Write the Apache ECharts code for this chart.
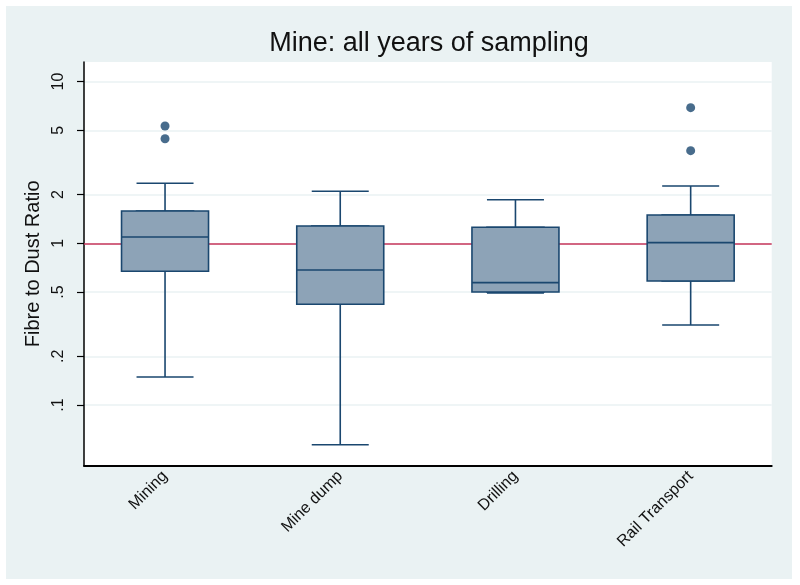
<!DOCTYPE html>
<html>
<head>
<meta charset="utf-8">
<script src="https://cdn.jsdelivr.net/npm/echarts@6/dist/echarts.min.js"></script>
<style>
html,body{margin:0;padding:0;background:#fff;}
#chart{width:800px;height:585px;}
</style>
</head>
<body>
<div id="chart"></div>
<script>
// ---- data ----
const categories = ['Mining', 'Mine dump', 'Drilling', 'Rail Transport'];
const whiskerLow  = [0.149, 0.0568, 0.493, 0.3125];
const quartile1   = [0.671, 0.420, 0.500, 0.585];
const medians     = [1.094, 0.684, 0.571, 1.009];
const quartile3   = [1.585, 1.280, 1.256, 1.496];
const whiskerHigh = [2.35, 2.10, 1.861, 2.26];
const outlierCategory = [0, 0, 3, 3];
const outlierValues   = [5.31, 4.43, 6.90, 3.74];
const yTickValues = [0.1, 0.2, 0.5, 1, 2, 5, 10];
const yTickLabels = ['.1', '.2', '.5', '1', '2', '5', '10'];
const referenceValue = 1;
const titleText = 'Mine: all years of sampling';
const yAxisTitle = 'Fibre to Dust Ratio';

// ---- build series data ----
const whiskerData = categories.map((c, i) => [i + 1, whiskerLow[i], quartile1[i], medians[i], quartile3[i], whiskerHigh[i]]);
const boxData = categories.map((c, i) => [i + 1, quartile1[i], quartile1[i], medians[i], quartile3[i], quartile3[i]]);
const outlierData = outlierValues.map((v, i) => [outlierCategory[i] + 1, v]);

const NAVY = '#1A476F';
const FONT = '"Liberation Sans", Arial, sans-serif';

const chart = echarts.init(document.getElementById('chart'), null, {renderer: 'canvas'});
const xCommon = {
  type: 'value', gridIndex: 0, min: 0.5375, max: 4.4625,
  splitLine: {show: false}, axisTick: {show: false}
};
chart.setOption({
  backgroundColor: '#ffffff',
  animation: false,
  graphic: [{
    type: 'rect', z: -10, silent: true,
    shape: {x: 6, y: 6, width: 786, height: 573},
    style: {fill: '#EAF2F3'}
  }],
  title: {
    text: titleText,
    left: 429, top: 30,
    textAlign: 'center',
    padding: 0,
    textStyle: {fontFamily: FONT, fontSize: 27, fontWeight: 'normal', color: '#111'}
  },
  grid: {
    left: 84, right: 28.3, top: 62, bottom: 119.3,
    show: true, backgroundColor: '#ffffff', borderWidth: 0
  },
  xAxis: [
    Object.assign({}, xCommon, {
      position: 'bottom',
      axisLine: {show: true, onZero: false, lineStyle: {color: '#000', width: 2}},
      axisLabel: {
        customValues: [1, 2, 3, 4],
        formatter: v => categories[Math.round(v) - 1],
        rotate: 45, margin: 8,
        fontFamily: FONT, fontSize: 16, color: '#111'
      }
    }),
    Object.assign({}, xCommon, {
      show: false
    })
  ],
  yAxis: {
    type: 'log', logBase: 10, min: 0.04213, max: 13.22,
    name: yAxisTitle, nameLocation: 'middle', nameRotate: 90, nameGap: 39,
    nameTextStyle: {fontFamily: FONT, fontSize: 20, color: '#111'},
    axisLine: {show: true, onZero: false, lineStyle: {color: '#000', width: 1.5}},
    axisTick: {show: true, customValues: yTickValues, length: 7, lineStyle: {color: '#000', width: 1.2}},
    axisLabel: {
      customValues: yTickValues,
      formatter: v => { const k = yTickValues.findIndex(t => Math.abs(t - v) < 1e-9); return k >= 0 ? yTickLabels[k] : ''; },
      rotate: 90, margin: 17,
      fontFamily: FONT, fontSize: 16, color: '#111'
    },
    splitLine: {show: true, lineStyle: {color: '#EAF2F3', width: 1.5}}
  },
  series: [
    {
      type: 'boxplot', xAxisIndex: 0, yAxisIndex: 0,
      data: whiskerData,
      boxWidth: [57, 57],
      itemStyle: {color: '#8DA3B7', borderColor: NAVY, borderWidth: 1.6},
      markLine: {
        silent: true, symbol: 'none', z: 1,
        label: {show: false},
        lineStyle: {color: '#C9365B', width: 1.6, type: 'solid'},
        data: [{yAxis: referenceValue}]
      }
    },
    {
      type: 'boxplot', xAxisIndex: 1, yAxisIndex: 0,
      data: boxData,
      boxWidth: [87, 87],
      itemStyle: {color: '#8DA3B7', borderColor: NAVY, borderWidth: 1.6}
    },
    {
      type: 'scatter', xAxisIndex: 0, yAxisIndex: 0,
      data: outlierData,
      symbol: 'circle', symbolSize: 9,
      itemStyle: {color: NAVY}
    }
  ]
});
</script>
</body>
</html>
